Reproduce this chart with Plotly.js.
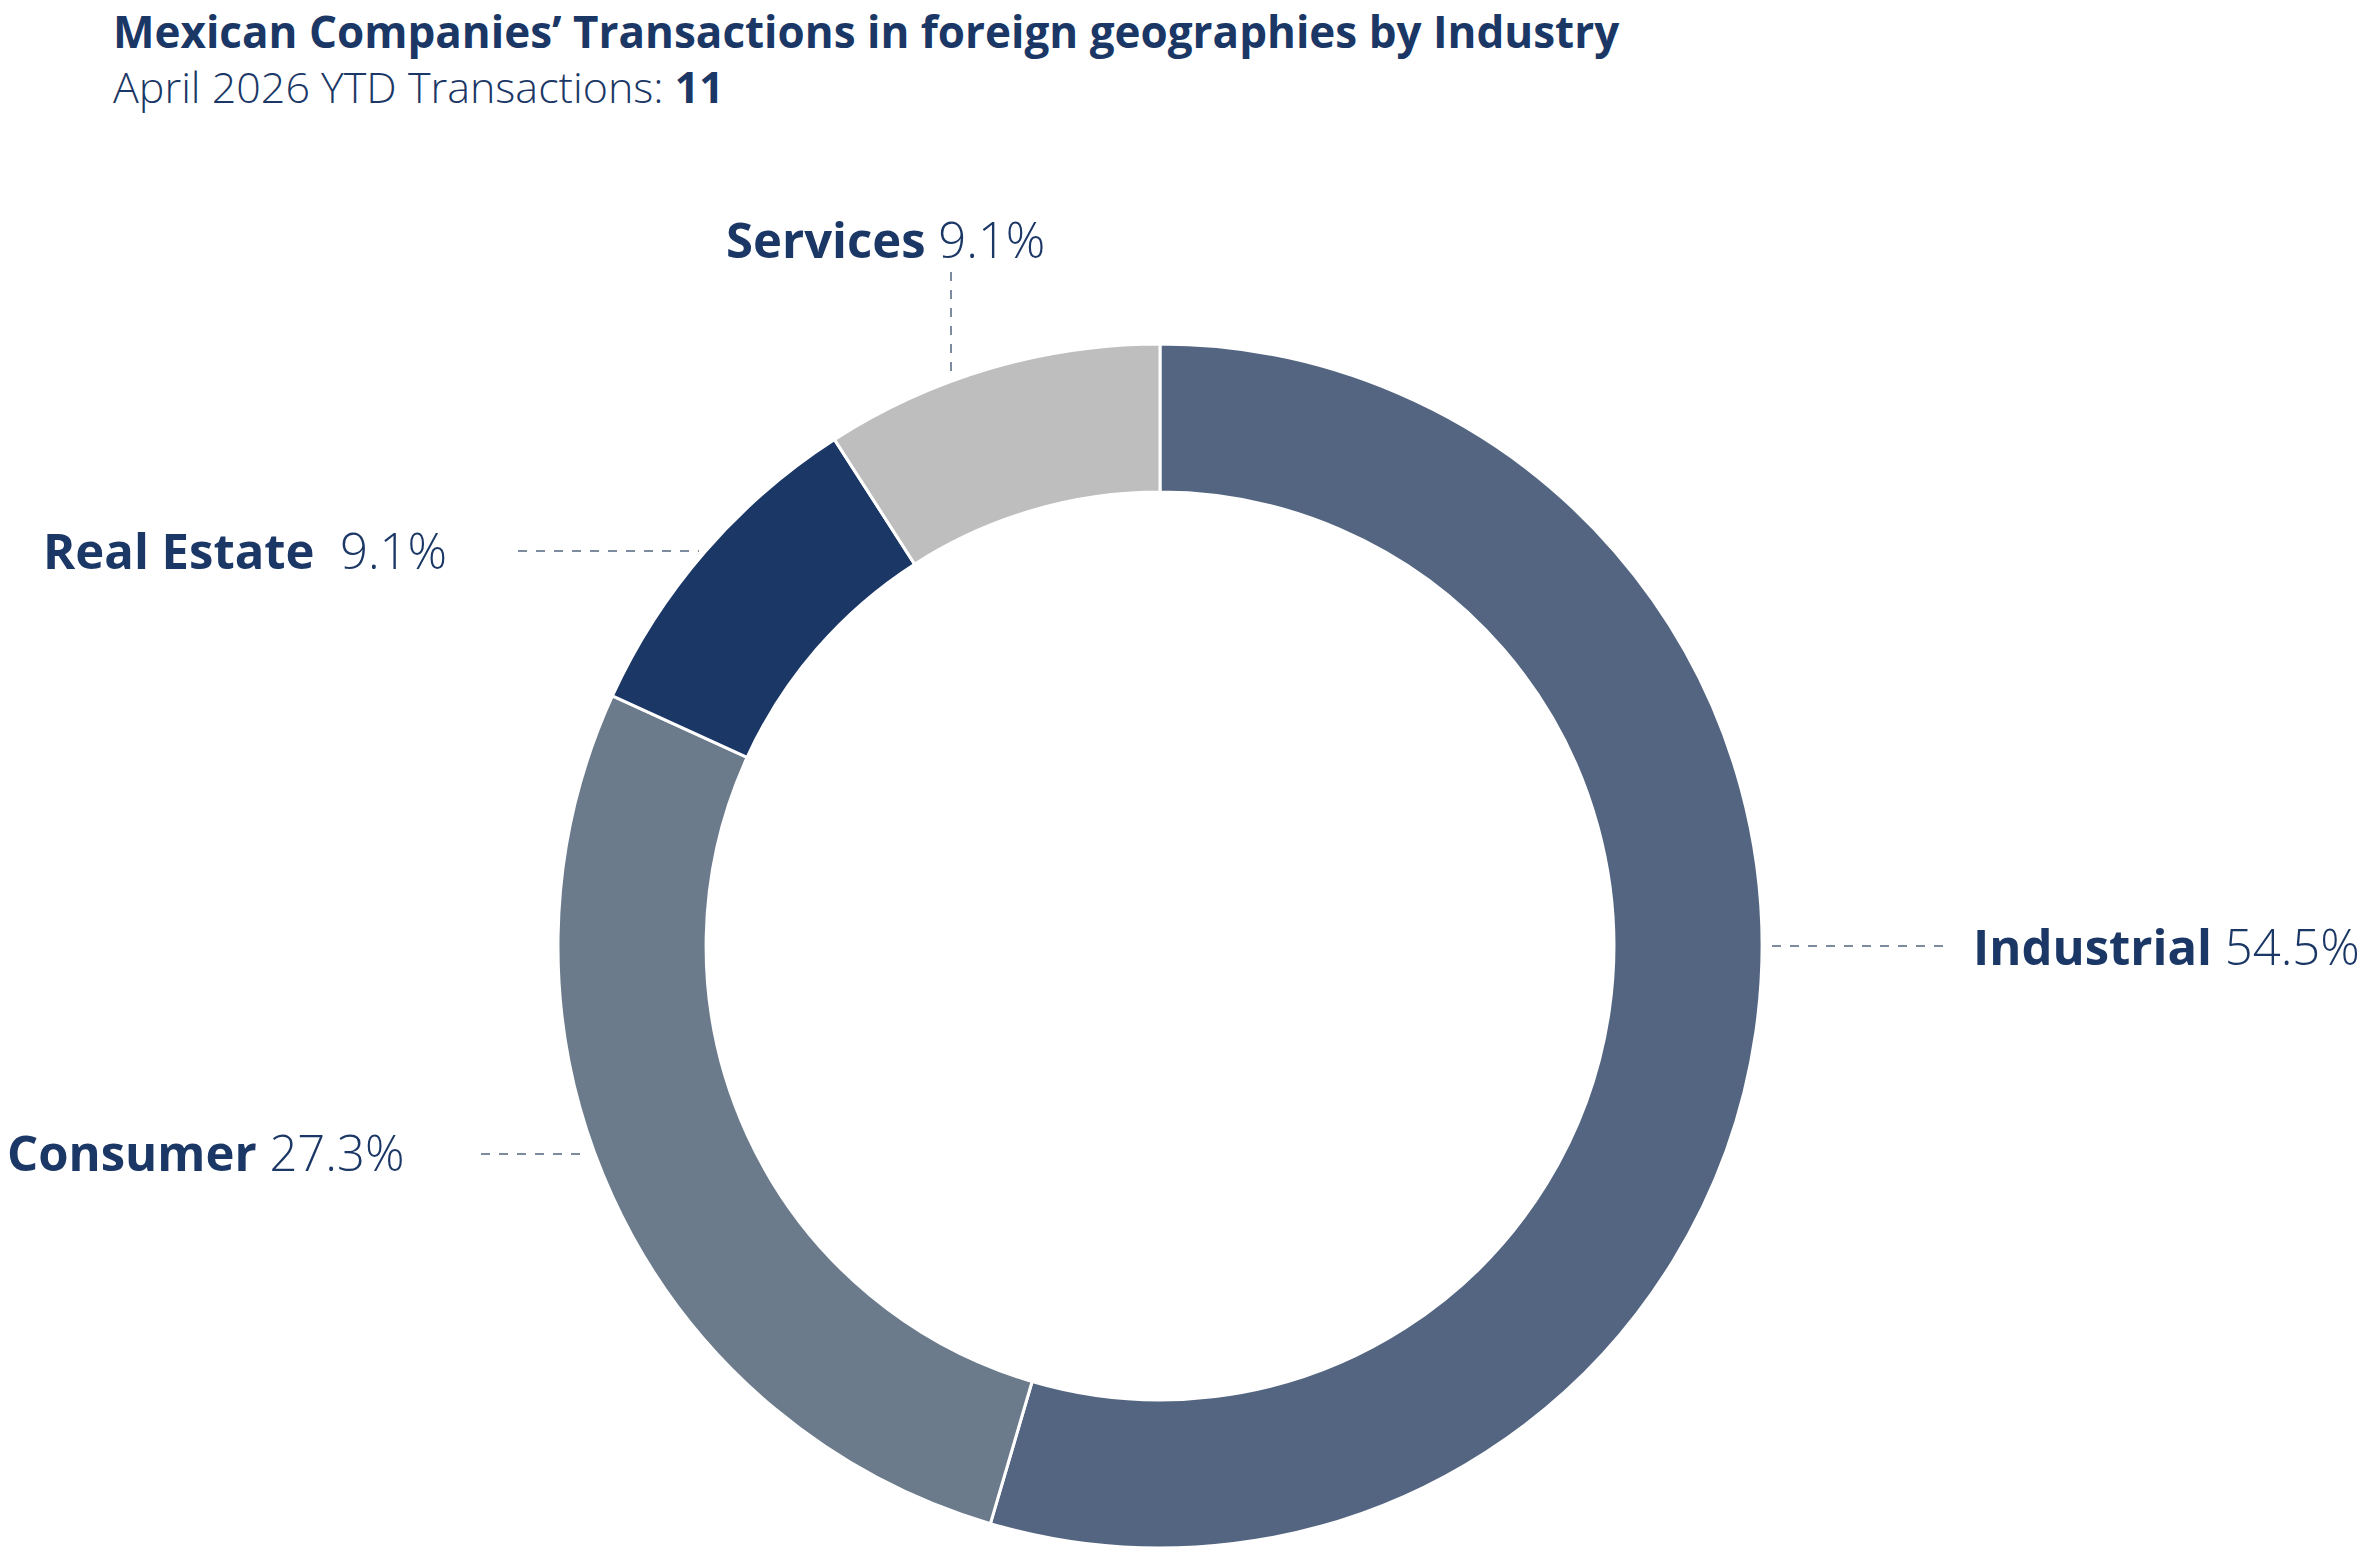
<!DOCTYPE html>
<html>
<head>
<meta charset="utf-8">
<script src="https://cdn.plot.ly/plotly-3.0.1.min.js"></script>
<style>html,body{margin:0;padding:0;background:#fff;}#chart{width:2366px;height:1553px;}</style>
</head>
<body>
<div id="chart"></div>
<script>
const categories = ["Industrial", "Consumer", "Real Estate", "Services"];
const counts = [6, 3, 1, 1];
const sliceColors = ["#536580", "#6b7b8c", "#1b3766", "#bebebe"];
const chartTitle = "Mexican Companies’ Transactions in foreign geographies by Industry";
const subtitlePrefix = "April 2026 YTD Transactions: ";

const W = 2366, H = 1553;
const total = counts.reduce((a, b) => a + b, 0);
const pct = counts.map(v => (v / total * 100).toFixed(1) + "%");
const navy = "#1b3766";
const fontFam = "'Open Sans', Lato, sans-serif";

// pie geometry (pixels)
const cx = 1160, cy = 946, R = 602;

// label placement (pixels) and leader lines [x0,y0,x1,y1]
const labelPos = {
  "Industrial":  {x: 1971, y: 946, sep: " ",  leader: [1772, 946, 1947, 946]},
  "Consumer":    {x: 5,    y: 1152, sep: " ",  leader: [481, 1154, 589, 1154]},
  "Real Estate": {x: 41,   y: 550, sep: "  ", leader: [518, 551, 699, 551]},
  "Services":    {x: 724,  y: 239, sep: " ",  leader: [951, 272, 951, 377]}
};
const px = x => x / W;
const py = y => 1 - y / H;

const annotations = [
  {
    xref: "paper", yref: "paper", x: px(112), y: 1, xanchor: "left", yanchor: "top",
    showarrow: false, align: "left", borderpad: 0,
    text: "<b>" + chartTitle + "</b>",
    font: {family: fontFam, size: 44, color: navy}
  },
  {
    xref: "paper", yref: "paper", x: px(112), y: py(87), xanchor: "left", yanchor: "middle",
    showarrow: false, align: "left", borderpad: 0,
    text: subtitlePrefix + "<b>" + total + "</b>",
    font: {family: fontFam, size: 43, color: navy, weight: 300}
  }
];
const shapes = [];
categories.forEach((c, i) => {
  const p = labelPos[c];
  annotations.push({
    xref: "paper", yref: "paper", x: px(p.x), y: py(p.y), xanchor: "left", yanchor: "middle",
    showarrow: false, align: "left",
    text: "<b>" + c + "</b>" + p.sep + pct[i],
    font: {family: fontFam, size: 49, color: navy, weight: 300}
  });
  shapes.push({
    type: "line", xref: "paper", yref: "paper",
    x0: px(p.leader[0]), y0: py(p.leader[1]), x1: px(p.leader[2]), y1: py(p.leader[3]),
    line: {color: "#536580", width: 1.5, dash: "dash"}
  });
});

const data = [{
  type: "pie",
  labels: categories,
  values: counts,
  sort: false,
  direction: "clockwise",
  rotation: 0,
  hole: 0.754,
  textinfo: "none",
  hoverinfo: "label+percent",
  marker: {colors: sliceColors, line: {color: "#ffffff", width: 3}},
  domain: {x: [px(cx - R), px(cx + R)], y: [py(cy + R), py(cy - R)]},
  showlegend: false
}];

const layout = {
  width: W, height: H,
  margin: {l: 0, r: 0, t: 0, b: 0},
  paper_bgcolor: "#ffffff",
  plot_bgcolor: "#ffffff",
  showlegend: false,
  annotations: annotations,
  shapes: shapes
};

Plotly.newPlot("chart", data, layout, {displayModeBar: false, staticPlot: true});
</script>
</body>
</html>
